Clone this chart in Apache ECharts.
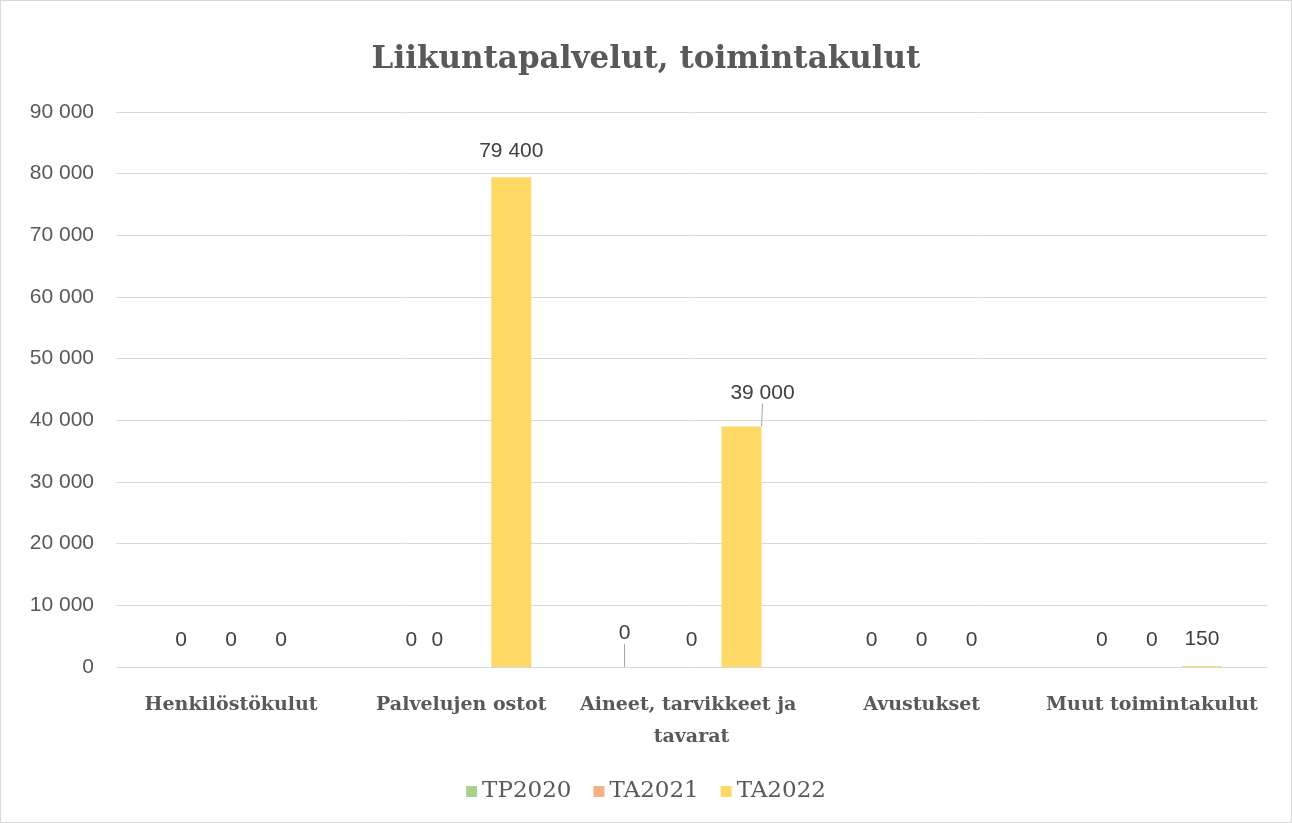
<!DOCTYPE html>
<html>
<head>
<meta charset="utf-8">
<script src="https://cdn.jsdelivr.net/npm/echarts@6/dist/echarts.min.js"></script>
<style>
  html, body { margin: 0; padding: 0; background: #fff; }
  #main { width: 1292px; height: 823px; box-sizing: border-box; border: 1px solid #d9d9d9; }
</style>
</head>
<body>
<div id="main"></div>
<script>
var categories = ["Henkilöstökulut", "Palvelujen ostot", "Aineet, tarvikkeet ja tavarat", "Avustukset", "Muut toimintakulut"];
var seriesNames = ["TP2020", "TA2021", "TA2022"];
var tp2020 = [0, 0, 0, 0, 0];
var ta2021 = [0, 0, 0, 0, 0];
var ta2022 = [0, 79400, 39000, 0, 150];
var colors = ["#a9d18e", "#f4b183", "#ffd966"];

function fmt(v) {
  return String(v).replace(/\B(?=(\d{3})+(?!\d))/g, " ");
}

// Excel moved a few labels by hand; nudge those ones (series-index)
var nudges = {
  "1-1": [-24, 0, false],
  "0-2": [-17, -7, true],
  "2-2": [21, -7, true]
};

function makeData(vals, s) {
  return vals.map(function (v, i) {
    var n = nudges[s + "-" + i];
    return {
      value: v,
      labelLine: { show: !!(n && n[2]) }
    };
  });
}

var myChart = echarts.init(document.getElementById("main"));

var option = {
  animation: false,
  color: colors,
  title: {
    text: "Liikuntapalvelut, toimintakulut",
    left: "center",
    top: 38,
    textStyle: { fontFamily: "DejaVu Serif", fontWeight: "bold", fontSize: 31, color: "#595959" }
  },
  legend: {
    bottom: 14,
    left: "center",
    icon: "rect",
    itemWidth: 11,
    itemHeight: 11,
    itemGap: 22,
    textStyle: { fontFamily: "DejaVu Serif", fontSize: 23, color: "#595959" },
    data: seriesNames
  },
  grid: { left: 115, right: 24, top: 111, bottom: 155 },
  xAxis: {
    type: "category",
    data: categories,
    axisTick: { show: false },
    axisLine: { lineStyle: { color: "#d9d9d9", width: 1 } },
    axisLabel: {
      interval: 0,
      margin: 22,
      width: 230,
      overflow: "break",
      lineHeight: 32,
      fontFamily: "DejaVu Serif",
      fontWeight: "bold",
      fontSize: 19,
      color: "#595959"
    }
  },
  yAxis: {
    type: "value",
    min: 0,
    max: 90000,
    interval: 10000,
    axisLine: { show: false },
    axisTick: { show: false },
    splitLine: { lineStyle: { color: "#d9d9d9", width: 1 } },
    axisLabel: {
      margin: 22,
      fontFamily: "Liberation Sans",
      fontSize: 21,
      color: "#595959",
      formatter: fmt
    }
  },
  series: [tp2020, ta2021, ta2022].map(function (vals, s) {
    return {
      name: seriesNames[s],
      type: "bar",
      barWidth: 40,
      barGap: "25%",
      data: makeData(vals, s),
      label: {
        show: true,
        position: "top",
        distance: 16,
        fontFamily: "Liberation Sans",
        fontSize: 21,
        color: "#404040",
        formatter: function (p) { return fmt(p.value); }
      },
      labelLine: { show: false, lineStyle: { color: "#a6a6a6", width: 1 } },
      labelLayout: function (p) {
        var n = nudges[p.seriesIndex + "-" + p.dataIndex];
        if (!n) return {};
        return { dx: n[0], dy: n[1] };
      }
    };
  })
};

myChart.setOption(option);
</script>
</body>
</html>
